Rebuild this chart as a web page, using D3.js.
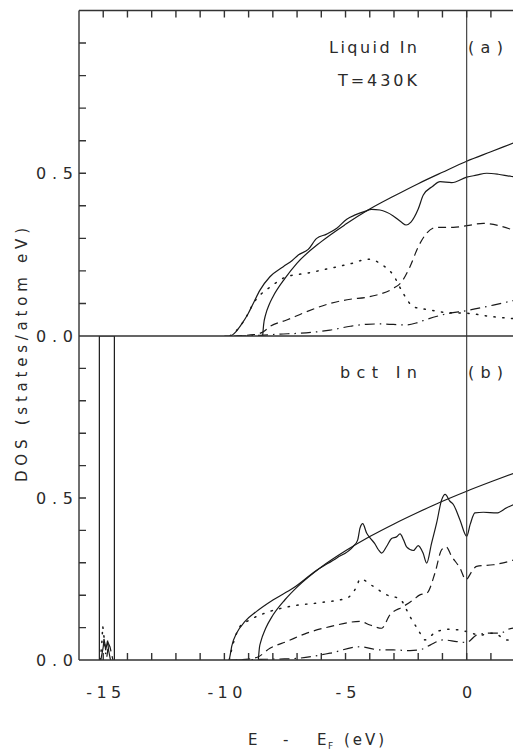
<!DOCTYPE html>
<html><head><meta charset="utf-8">
<script src="https://cdn.jsdelivr.net/npm/d3@7/dist/d3.min.js"></script>
<style>
html,body{margin:0;padding:0;background:#fff;}
svg{display:block;}
text{font-family:"DejaVu Sans","Liberation Sans",sans-serif;fill:#2a2a2a;}
</style></head>
<body>
<svg id="c" width="513" height="750"></svg>
<script>
// ---------- DATA ----------
const xTickValues = d3.range(-15, 3, 1);
const xTickLabels = {"-15":"-15","-10":"-10","-5":"-5","0":"0"};
const yTickValues = [0,0.1,0.2,0.3,0.4,0.5,0.6,0.7,0.8,0.9];
const yTickLabels = {"0":"0.0","0.5":"0.5"};

// Panel (a) liquid In
const aTotalE = [-10.0,-9.77,-9.5,-9.36,-9.01,-8.81,-8.53,-8.12,-7.57,-7.2,-6.95,-6.54,-6.19,-5.78,-5.36,-4.95,-4.6,-4.2,-3.92,-3.58,-3.03,-2.7,-2.5,-2.3,-2.0,-1.79,-1.4,-1.1,-0.62,0,0.4,0.83,1.3,1.86,2.0];
const aTotalD = [0,0,0.015,0.029,0.07,0.10,0.141,0.182,0.213,0.232,0.249,0.266,0.30,0.313,0.331,0.359,0.372,0.383,0.389,0.387,0.369,0.35,0.341,0.35,0.39,0.433,0.46,0.474,0.471,0.488,0.494,0.50,0.497,0.49,0.489];
const aFreeE = [-8.42,-8.38,-8.3,-8.15,-8.0,-7.5,-7,-6,-5,-4,-3,-2,-1,0,1,2];
const aFreeD = [0,0.035,0.065,0.097,0.12,0.177,0.224,0.29,0.343,0.39,0.43,0.468,0.503,0.537,0.566,0.595];
const aDotE = [-9.77,-9.36,-9.01,-8.81,-8.6,-8.12,-7.43,-6.6,-5.64,-4.8,-4.06,-3.8,-3.58,-3.03,-2.62,-2.2,-1.51,-0.82,0,1.1,2.0];
const aDotD = [0,0.029,0.07,0.10,0.12,0.15,0.182,0.193,0.208,0.222,0.236,0.232,0.223,0.187,0.131,0.09,0.08,0.072,0.07,0.059,0.053];
const aDashE = [-9.6,-8.8,-8.39,-8.12,-7.43,-6.6,-5.64,-4.8,-4.13,-3.71,-3.03,-2.68,-2.34,-2.0,-1.65,-1.24,-0.55,0,0.69,1.38,2.0];
const aDashD = [0,0.004,0.013,0.029,0.049,0.075,0.10,0.113,0.119,0.126,0.146,0.167,0.213,0.274,0.316,0.334,0.334,0.339,0.346,0.338,0.323];
const aDashDotE = [-9.5,-8.5,-7.7,-7.0,-5.64,-4.8,-4.13,-3.58,-2.48,-2.0,-1.65,-0.82,0,1.1,2.0];
const aDashDotD = [0,0.002,0.006,0.008,0.018,0.03,0.036,0.037,0.034,0.042,0.051,0.068,0.078,0.095,0.11];

// Panel (b) bct In
const bTotalE = [-9.8,-9.75,-9.7,-9.49,-9.15,-8.67,-7.98,-7.16,-6.19,-5.36,-4.68,-4.5,-4.4,-4.29,-4.13,-3.99,-3.8,-3.65,-3.51,-3.3,-3.1,-2.9,-2.75,-2.6,-2.48,-2.2,-2.0,-1.8,-1.65,-1.45,-1.24,-1.03,-0.89,-0.69,-0.55,-0.28,0,0.15,0.34,0.69,1.24,1.65,2.0];
const bTotalD = [0,0.02,0.041,0.083,0.119,0.15,0.186,0.222,0.277,0.315,0.351,0.37,0.408,0.421,0.392,0.377,0.36,0.341,0.33,0.351,0.375,0.38,0.389,0.37,0.349,0.338,0.353,0.33,0.299,0.36,0.423,0.495,0.511,0.49,0.48,0.433,0.382,0.42,0.454,0.456,0.454,0.47,0.482];
const bFreeE = [-8.6,-8.55,-8.5,-8.3,-8.0,-7.5,-7,-6,-5,-4,-3,-2,-1,0,1,2];
const bFreeD = [0,0.04,0.056,0.097,0.138,0.186,0.225,0.287,0.337,0.381,0.42,0.456,0.49,0.521,0.55,0.578];
const bDotE = [-9.8,-9.6,-9.36,-8.94,-8.12,-7.16,-6.05,-4.95,-4.54,-4.4,-3.85,-3.3,-2.75,-2.34,-2.0,-1.72,-1.24,-0.69,0,0.55,1.1,1.65,2.0];
const bDotD = [0,0.06,0.103,0.124,0.15,0.167,0.177,0.191,0.227,0.25,0.227,0.201,0.188,0.134,0.093,0.062,0.088,0.095,0.088,0.077,0.083,0.062,0.06];
const bDashE = [-9.8,-9.0,-8.6,-8.12,-7.43,-6.6,-5.64,-4.4,-3.99,-3.51,-3.17,-2.62,-2.2,-1.93,-1.65,-1.31,-1.03,-0.85,-0.62,-0.28,-0.03,0.21,0.41,1.1,1.72,2.0];
const bDashD = [0,0.003,0.01,0.036,0.057,0.083,0.103,0.119,0.108,0.098,0.139,0.165,0.186,0.201,0.206,0.268,0.341,0.349,0.32,0.284,0.248,0.273,0.289,0.294,0.304,0.31];
const bDashDotE = [-9.5,-8.5,-7.7,-7.0,-5.64,-4.4,-3.58,-3.03,-2.34,-1.86,-1.51,-0.97,-0.41,0,0.41,0.96,1.38,1.72,2.0];
const bDashDotD = [0,0.002,0.003,0.005,0.021,0.041,0.031,0.031,0.029,0.033,0.046,0.062,0.057,0.054,0.077,0.083,0.083,0.095,0.1];

// Panel (b) semicore 4d band (total off scale)
const bSemiTotalE = [-15.16,-15.16,-14.54,-14.54];
const bSemiTotalD = [0,1,1,0];
const bSemiSolidE = [-15.1,-15.05,-15.0,-14.97,-14.93,-14.9,-14.86,-14.82,-14.78,-14.7];
const bSemiSolidD = [0,0.02,0.04,0.065,0.05,0.03,0.045,0.06,0.03,0];
const bSemiDotE = [-15.12,-15.06,-15.02,-14.98,-14.94,-14.9];
const bSemiDotD = [0,0.05,0.105,0.08,0.05,0.02];
const bSemiDashE = [-14.85,-14.78,-14.72,-14.66,-14.6];
const bSemiDashD = [0.01,0.05,0.04,0.02,0];

// ---------- DRAW ----------
const svg = d3.select("#c");
const X0 = 79, XR = 79 + 18*24.23;
const x = d3.scaleLinear().domain([-16, 2]).range([X0, XR]);
const yA = d3.scaleLinear().domain([0, 1]).range([336, 10.5]);
const yB = d3.scaleLinear().domain([0, 1]).range([660, 336]);
const ink = "#1a1a1a";
const frameInk = "#333";

const defs = svg.append("defs");
defs.append("clipPath").attr("id","clipA").append("rect").attr("x",X0).attr("y",yA(1)).attr("width",XR-X0).attr("height",yA(0)-yA(1));
defs.append("clipPath").attr("id","clipB").append("rect").attr("x",X0).attr("y",yB(1)).attr("width",XR-X0).attr("height",yB(0)-yB(1));

const styles = {
  solid:{dash:null, w:1.2},
  dot:{dash:"1.3,7.5", w:1.5},
  dash:{dash:"8,5", w:1.2},
  dashdot:{dash:"10,5,1.5,5", w:1.2}
};
function drawSeries(g, y, E, D, style, curve){
  const pts = E.map((e,i)=>[e, D[i]]);
  const line = d3.line().x(d=>x(d[0])).y(d=>y(d[1])).curve(curve || d3.curveMonotoneX);
  g.append("path").attr("d", line(pts)).attr("fill","none")
    .attr("stroke", ink).attr("stroke-width", styles[style].w)
    .attr("stroke-dasharray", styles[style].dash)
    .attr("stroke-linecap", style==="dot" ? "round" : "butt");
}

const gA = svg.append("g").attr("clip-path","url(#clipA)");
drawSeries(gA, yA, aFreeE, aFreeD, "solid");
drawSeries(gA, yA, aTotalE, aTotalD, "solid");
drawSeries(gA, yA, aDotE, aDotD, "dot");
drawSeries(gA, yA, aDashE, aDashD, "dash");
drawSeries(gA, yA, aDashDotE, aDashDotD, "dashdot");

const gB = svg.append("g").attr("clip-path","url(#clipB)");
drawSeries(gB, yB, bFreeE, bFreeD, "solid");
drawSeries(gB, yB, bTotalE, bTotalD, "solid");
drawSeries(gB, yB, bDotE, bDotD, "dot");
drawSeries(gB, yB, bDashE, bDashD, "dash");
drawSeries(gB, yB, bDashDotE, bDashDotD, "dashdot");
drawSeries(gB, yB, bSemiTotalE, bSemiTotalD, "solid", d3.curveLinear);
drawSeries(gB, yB, bSemiSolidE, bSemiSolidD, "solid", d3.curveLinear);
drawSeries(gB, yB, bSemiDotE, bSemiDotD, "dot", d3.curveLinear);
drawSeries(gB, yB, bSemiDashE, bSemiDashD, "dash", d3.curveLinear);

// Fermi level line
svg.append("line").attr("x1",x(0)).attr("x2",x(0)).attr("y1",yA(1)).attr("y2",yB(0))
  .attr("stroke","#333").attr("stroke-width",1.1);

// Frame + inward tick marks, one path built from the scales
const p = d3.path();
p.moveTo(X0, yA(1)); p.lineTo(XR, yA(1));
p.moveTo(X0, yA(0)); p.lineTo(XR, yA(0));
p.moveTo(X0, yB(0)); p.lineTo(XR, yB(0));
p.moveTo(X0, yA(1)); p.lineTo(X0, yB(0));
yTickValues.filter(v => v > 0).forEach(v => {
  p.moveTo(X0, yA(v)); p.lineTo(X0 + 7, yA(v));
  p.moveTo(X0, yB(v)); p.lineTo(X0 + 7, yB(v));
});
xTickValues.forEach(v => {
  p.moveTo(x(v), yA(1)); p.lineTo(x(v), yA(1) + 7);
  p.moveTo(x(v), yB(0)); p.lineTo(x(v), yB(0) - 7);
});
svg.append("path").attr("d", p.toString()).attr("fill","none")
  .attr("stroke", frameInk).attr("stroke-width", 1.4);

// Axes (labels)
function styleAxis(g){
  g.select(".domain").remove();
  g.selectAll(".tick line").remove();
  g.selectAll(".tick text").attr("font-family",'"DejaVu Sans","Liberation Sans",sans-serif')
    .attr("font-size",16).attr("fill","#2a2a2a");
}
const fmtY = d => yTickLabels[String(Math.round(d*10)/10)] || "";
const axA = svg.append("g").attr("transform",`translate(${X0},0)`)
  .call(d3.axisLeft(yA).tickValues(yTickValues).tickSize(0).tickPadding(6).tickFormat(fmtY));
styleAxis(axA);
const axB = svg.append("g").attr("transform",`translate(${X0},0)`)
  .call(d3.axisLeft(yB).tickValues(yTickValues).tickSize(0).tickPadding(6).tickFormat(fmtY));
styleAxis(axB);
[axA, axB].forEach(g => g.selectAll(".tick text").filter(function(){return this.textContent!=="";})
  .attr("textLength",37).attr("lengthAdjust","spacing"));

const axBot = svg.append("g").attr("transform",`translate(0,${yB(0)})`)
  .call(d3.axisBottom(x).tickValues(xTickValues).tickSize(0).tickPadding(27).tickFormat(d => xTickLabels[String(d)] || ""));
styleAxis(axBot);
axBot.selectAll(".tick text").each(function(){
  const t = this.textContent;
  if (t.length === 3) d3.select(this).attr("textLength",35).attr("lengthAdjust","spacing");
  else if (t.length === 2) d3.select(this).attr("textLength",21).attr("lengthAdjust","spacing");
});

// Panel labels
function label(txt, x0, yb, len){
  svg.append("text").attr("x",x0).attr("y",yb).attr("font-size",16)
    .attr("textLength",len).attr("lengthAdjust","spacing").text(txt);
}
label("Liquid In", 329, 53, 88);
label("(a)", 468, 53, 35);
label("T=430K", 338, 86, 79);
label("bct In", 340, 378, 77);
label("(b)", 468, 378, 35);

// Axis titles
svg.append("text").attr("transform","translate(27,355) rotate(-90)")
  .attr("text-anchor","middle").attr("font-size",15)
  .attr("textLength",254).attr("lengthAdjust","spacing")
  .text("DOS (states/atom eV)");
svg.append("text").attr("x",248).attr("y",745).attr("font-size",15).text("E");
svg.append("text").attr("x",283).attr("y",745).attr("font-size",15).text("-");
svg.append("text").attr("x",317).attr("y",745).attr("font-size",15).text("E");
svg.append("text").attr("x",328).attr("y",749).attr("font-size",9).text("F");
svg.append("text").attr("x",344).attr("y",745).attr("font-size",15)
  .attr("textLength",40).attr("lengthAdjust","spacing").text("(eV)");
</script>
</body></html>
